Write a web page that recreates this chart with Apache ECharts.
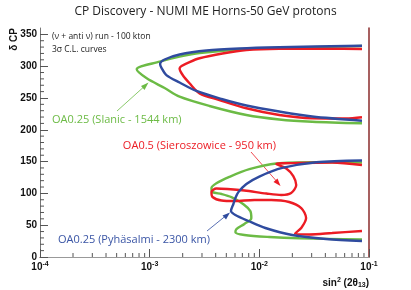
<!DOCTYPE html>
<html><head><meta charset="utf-8">
<script src="https://cdn.jsdelivr.net/npm/echarts@6/dist/echarts.min.js"></script>
<style>html,body{margin:0;padding:0;background:#fff}#c{width:411px;height:290px}</style>
</head><body><div id="c"></div>
<script>
// Axis ticks
const xMajorTicks = [1e-4, 1e-3, 1e-2, 1e-1];
const yMajorTicks = [0, 50, 100, 150, 200, 250, 300, 350];

// Contours (sin^2(2theta13), deltaCP in degrees)
const greenUpper = [[0.0863,331.7],[0.0231,329.3],[0.00762,327],[0.00285,320.7],[0.001874,314.9],[0.001233,307],[0.000762,295.1],[0.00094,280.9],[0.001368,265.7],[0.001874,252],[0.00351,237.4],[0.00762,223.2],[0.0152,216.2],[0.0303,212.7],[0.0863,210.2]];
const greenLower = [[0.0863,148.5],[0.0330,149],[0.0143,147],[0.00811,138],[0.00533,126],[0.00406,116],[0.00366,108.5],[0.00374,102],[0.00452,99],[0.00556,94],[0.00716,83],[0.00828,72],[0.00845,61],[0.00731,52],[0.00618,44],[0.00605,39],[0.00731,34.6],[0.01233,31.4],[0.0231,29.4],[0.0863,27.5]];
const blueUpper = [[0.0863,332.2],[0.0152,329.7],[0.00658,327.8],[0.0033,324.6],[0.001874,318.3],[0.001368,310.5],[0.001245,303.4],[0.001285,297],[0.00142,286],[0.001874,274.3],[0.00267,261],[0.00452,248.4],[0.00762,238.2],[0.0152,228.7],[0.0303,220.9],[0.0863,214.3]];
const blueLower = [[0.0863,151.7],[0.0330,149],[0.01618,140],[0.0100,126.5],[0.00762,114.8],[0.00644,102],[0.00605,92.7],[0.00580,83.3],[0.00551,72.3],[0.00605,66],[0.00794,56.6],[0.01135,45.6],[0.01995,34.6],[0.0406,28.3],[0.0863,25.2]];
const redUpper = [[0.0863,327],[0.0433,327.5],[0.0152,327.3],[0.00762,325.4],[0.00461,319.9],[0.00285,312.4],[0.00231,306.5],[0.001954,300.3],[0.001874,296.3],[0.002,286.1],[0.00231,273.1],[0.00285,257.3],[0.00433,246.8],[0.00762,233.8],[0.0152,223.2],[0.0303,218],[0.0618,217.7],[0.0863,219.6]];
const redLower = [[0.0863,144.6],[0.0461,148.6],[0.0231,147.8],[0.01428,146.2],[0.0176,139.1],[0.0204,127.3],[0.0217,113.2],[0.0195,100.6],[0.01585,97.5],[0.01159,99.8],[0.00731,104.5],[0.00512,106.9],[0.00406,107.7],[0.00366,102.2],[0.00374,94.3],[0.00452,88.8],[0.00593,88.0],[0.00901,89.6],[0.01286,89.6],[0.0187,86.5],[0.0241,77.0],[0.0267,61.3],[0.0241,45.6],[0.0212,36.9],[0.0285,35.4],[0.0461,37.7],[0.0863,40.9]];

const GREEN = '#6cbb45', RED = '#ec1c24', BLUE = '#2f4b9f';

// minor ticks (axis structure)
const minorTicks = [];
for (let d = -4; d < -1; d++) for (let m = 2; m <= 9; m++) minorTicks.push([m * Math.pow(10, d), 0, 0]);
for (let v = 10; v < 360; v += 10) if (v % 50 !== 0) minorTicks.push([1e-4, v, 1]);

const chart = echarts.init(document.getElementById('c'), null, {renderer: 'canvas'});
const lineSeries = (data, color) => ({
  type: 'line', data: data, showSymbol: false, smooth: 0.3, clip: true,
  lineStyle: {color: color, width: 2.4}, z: 3, silent: true
});
const FONT = 'Liberation Sans';
const AFONT = 'Open Sans';

chart.setOption({
  animation: false,
  grid: {left: 40, right: 42, top: 28, bottom: 33, containLabel: false},
  xAxis: [{
    type: 'log', logBase: 10, min: 1e-4, max: 0.1,
    axisLine: {lineStyle: {color: '#8a2b2b', width: 1}},
    axisTick: {inside: true, length: 8, lineStyle: {color: '#555'}},
    splitLine: {show: false}, minorTick: {show: false},
    axisLabel: {
      margin: 4,
      formatter: function (v) { return '{b|10}{s|' + Math.round(Math.log10(v)) + '}'; },
      rich: {
        b: {fontFamily: FONT, fontWeight: 'bold', fontSize: 10, color: '#111'},
        s: {fontFamily: FONT, fontWeight: 'bold', fontSize: 7, color: '#111', padding: [0, 0, 6, 0]}
      }
    }
  }, {
    type: 'log', logBase: 10, min: 1e-4, max: 0.1, position: 'top',
    axisLine: {lineStyle: {color: '#999', width: 1}},
    axisTick: {show: false}, axisLabel: {show: false}, splitLine: {show: false}
  }],
  yAxis: [{
    type: 'value', min: 0, max: 360, interval: 50,
    axisLine: {show: true, lineStyle: {color: '#777', width: 1}},
    axisTick: {show: true, inside: true, length: 8, lineStyle: {color: '#555'}},
    splitLine: {show: false},
    axisLabel: {
      margin: 3, showMaxLabel: false,
      fontFamily: FONT, fontWeight: 'bold', fontSize: 10, color: '#111',
      formatter: function (v) { return yMajorTicks.indexOf(v) >= 0 ? String(v) : ''; }
    }
  }, {
    type: 'value', min: 0, max: 360, position: 'right',
    axisLine: {show: true, lineStyle: {color: '#8a2b2b', width: 1.5}},
    axisTick: {show: false}, axisLabel: {show: false}, splitLine: {show: false}
  }],
  series: [
    lineSeries(greenUpper, GREEN), lineSeries(greenLower, GREEN),
    lineSeries(redUpper, RED), lineSeries(redLower, RED),
    lineSeries(blueUpper, BLUE), lineSeries(blueLower, BLUE),
    {
      type: 'custom', data: minorTicks, silent: true, z: 2,
      renderItem: function (params, api) {
        const p = api.coord([api.value(0), api.value(1)]);
        const dir = api.value(2);
        const L = 4;
        return {
          type: 'line',
          shape: dir === 0 ? {x1: p[0], y1: p[1], x2: p[0], y2: p[1] - L} : {x1: p[0], y1: p[1], x2: p[0] + L, y2: p[1]},
          style: {stroke: '#555', lineWidth: 1}
        };
      }
    }
  ],
  graphic: [
    {type: 'text', left: 'center', top: 6, style: {text: 'CP Discovery - NUMI ME Horns-50 GeV protons', font: '12px "Open Sans"', fill: '#222'}},
    {type: 'text', x: 52, y: 32, style: {text: '(ν + anti ν) run - 100 kton', font: '8.5px "Open Sans"', fill: '#222'}},
    {type: 'text', x: 52, y: 45, style: {text: '3σ C.L. curves', font: '8.5px "Open Sans"', fill: '#222'}},
    {type: 'text', x: 14, y: 28, rotation: Math.PI / 2, style: {text: 'δ CP', font: 'bold 10px "Liberation Sans"', fill: '#111', align: 'right', verticalAlign: 'middle'}},
    {type: 'text', x: 369, y: 283, style: {
      text: '{a|sin}{p|2}{a| (2θ}{q|13}{a|)}', align: 'right', verticalAlign: 'middle',
      rich: {
        a: {font: 'bold 10px "Liberation Sans"', fill: '#111'},
        p: {font: 'bold 7px "Liberation Sans"', fill: '#111', padding: [0, 0, 6, 0]},
        q: {font: 'bold 7px "Liberation Sans"', fill: '#111', padding: [5, 0, 0, 0]}
      }}},
    {type: 'text', x: 52, y: 120, style: {text: 'OA0.25 (Slanic - 1544 km)', font: '11px "Open Sans"', fill: GREEN, verticalAlign: 'middle'}},
    {type: 'text', x: 276, y: 146, style: {text: 'OA0.5 (Sieroszowice - 950 km)', font: '11px "Open Sans"', fill: RED, align: 'right', verticalAlign: 'middle'}},
    {type: 'text', x: 58, y: 240, style: {text: 'OA0.25 (Pyhäsalmi - 2300 km)', font: '11px "Open Sans"', fill: '#3a55a5', verticalAlign: 'middle'}},
    // arrows
    {type: 'line', shape: {x1: 117, y1: 111, x2: 147, y2: 84}, style: {stroke: GREEN, lineWidth: 0.8}},
    {type: 'polygon', shape: {points: [[148.5, 82.5], [141, 86], [144.5, 90]]}, style: {fill: GREEN}},
    {type: 'line', shape: {x1: 251, y1: 152, x2: 279, y2: 184}, style: {stroke: RED, lineWidth: 0.8}},
    {type: 'polygon', shape: {points: [[280.5, 186], [273.5, 182], [277.5, 178.5]]}, style: {fill: RED}},
    {type: 'line', shape: {x1: 207, y1: 231, x2: 228, y2: 214}, style: {stroke: BLUE, lineWidth: 0.8}},
    {type: 'polygon', shape: {points: [[230, 212.5], [222.5, 215.5], [226, 219.5]]}, style: {fill: BLUE}}
  ]
});
</script>
</body></html>
